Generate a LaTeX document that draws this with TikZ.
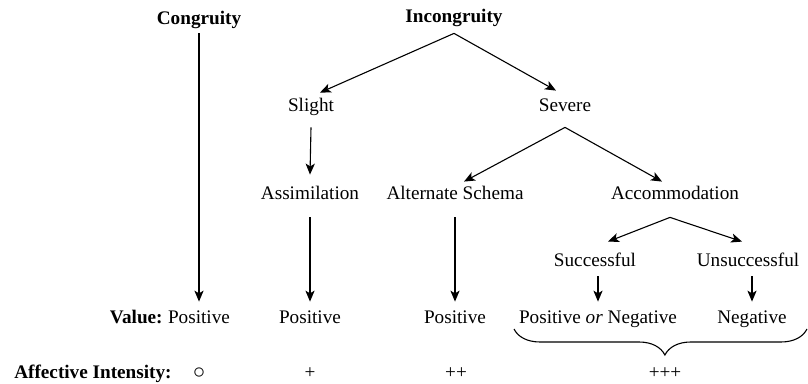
\documentclass[tikz,border=0pt]{standalone}
\usepackage{fontspec}
\setmainfont{Liberation Serif}
\usetikzlibrary{arrows.meta,decorations.pathreplacing}
\begin{document}
\begin{tikzpicture}[x=0.5pt,y=-0.5pt,
  lbl/.style={inner sep=0pt, text height=7pt, text depth=2pt, anchor=base, font=\fontsize{9.6}{11}\selectfont},
  hd/.style={lbl, font=\fontsize{9.6}{11}\selectfont\bfseries},
  arr/.style={-{Stealth[length=5.5pt,width=4.6pt,inset=1.4pt]}, line width=0.55pt}]
\useasboundingbox (0,0) rectangle (808,384);
% nodes
\node[hd]  (congr)   at (199,25)  {Congruity};
\node[hd]  (incongr) at (454,23)  {Incongruity};
\node[lbl] (slight)  at (311,112) {Slight};
\node[lbl] (severe)  at (565,112) {Severe};
\node[lbl] (assim)   at (310,200) {Assimilation};
\node[lbl] (alt)     at (455,200) {Alternate Schema};
\node[lbl] (accom)   at (675,200) {Accommodation};
\node[lbl] (succ)    at (595,267) {Successful};
\node[lbl] (unsucc)  at (748,267) {Unsuccessful};
\node[hd, anchor=base east] (vallbl) at (163,324) {Value:};
\node[lbl] (pos1)    at (199,324) {Positive};
\node[lbl] (pos2)    at (310,324) {Positive};
\node[lbl] (pos3)    at (455,324) {Positive};
\node[lbl] (posneg)  at (598,324) {Positive \emph{or} Negative};
\node[lbl] (neg)     at (752,324) {Negative};
\node[hd, anchor=base east] (afflbl) at (172,379) {Affective Intensity:};
\node[lbl, font=\fontsize{12.5}{14}\selectfont] (int0) at (199,379) {$\circ$};
\node[lbl] (int1)    at (310,379) {+};
\node[lbl] (int2)    at (456,379) {++};
\node[lbl] (int3)    at (665,379) {+++};
\coordinate (braceL) at (514,329);
\coordinate (braceR) at (807,329);
% connectors
\draw[arr] ([yshift=-2pt]congr.south) -- ([yshift=4pt]pos1.north);
\draw[arr] ([yshift=-3pt]incongr.south) -- ([xshift=4.5pt,yshift=2.5pt]slight.north);
\draw[arr] ([yshift=-3pt]incongr.south) -- ([xshift=-4.5pt,yshift=3.5pt]severe.north);
\draw[arr] ([yshift=-5.5pt]slight.south) -- ([yshift=5.5pt]assim.north);
\draw[arr] ([yshift=-5.5pt]severe.south) -- ([xshift=4.5pt,yshift=2pt]alt.north);
\draw[arr] ([yshift=-5.5pt]severe.south) -- ([xshift=-6.5pt,yshift=2pt]accom.north);
\draw[arr] ([yshift=-6.5pt]assim.south) -- ([yshift=4pt]pos2.north);
\draw[arr] ([yshift=-6.5pt]alt.south -| pos3.north) -- ([yshift=4pt]pos3.north);
\draw[arr] ([xshift=-2.5pt,yshift=-6.5pt]accom.south) -- ([xshift=6.5pt,yshift=5.5pt]succ.north);
\draw[arr] ([xshift=-2.5pt,yshift=-6.5pt]accom.south) -- ([xshift=-3pt,yshift=5.5pt]unsucc.north);
\draw[arr] ([yshift=-2.5pt]succ.south -| posneg.north) -- ([yshift=4pt]posneg.north);
\draw[arr] ([yshift=-2.5pt]unsucc.south -| neg.north) -- ([yshift=4pt]neg.north);
\draw[line width=0.55pt, decorate, decoration={brace, mirror, amplitude=13pt, aspect=0.515}] (braceL) -- (braceR);
\end{tikzpicture}
\end{document}
